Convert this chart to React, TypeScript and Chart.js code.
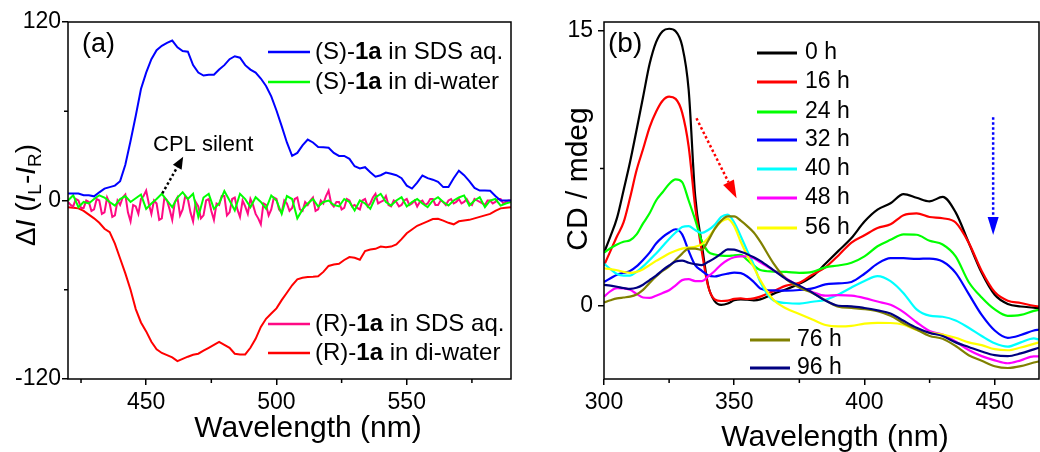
import React, { useEffect, useRef } from "react";
import { Chart, registerables } from "chart.js";

Chart.register(...registerables);

const FONT = "'Liberation Sans', Arial, Helvetica, sans-serif";

// ---------------- Panel (a): CPL spectra ----------------
const wavelengthA = [
  420, 422, 424, 426, 428, 430, 432, 434, 436, 438, 440, 442, 444, 446, 448, 450, 452, 454, 456, 458,
  460, 462, 464, 466, 468, 470, 472, 474, 476, 478, 480, 482, 484, 486, 488, 490, 492, 494, 496, 498,
  500, 502, 504, 506, 508, 510, 512, 514, 516, 518, 520, 522, 524, 526, 528, 530, 532, 534, 536, 538,
  540, 542, 544, 546, 548, 550, 552, 554, 556, 558, 560, 562, 564, 566, 568, 570, 572, 574, 576, 578,
  580, 582, 584, 586, 588, 590,
];
const wavelengthFineA = [
  420, 421, 422, 423, 424, 425, 426, 427, 428, 429, 430, 431, 432, 433, 434, 435, 436, 437, 438, 439,
  440, 441, 442, 443, 444, 445, 446, 447, 448, 449, 450, 451, 452, 453, 454, 455, 456, 457, 458, 459,
  460, 461, 462, 463, 464, 465, 466, 467, 468, 469, 470, 471, 472, 473, 474, 475, 476, 477, 478, 479,
  480, 481, 482, 483, 484, 485, 486, 487, 488, 489, 490, 491, 492, 493, 494, 495, 496, 497, 498, 499,
  500, 501, 502, 503, 504, 505, 506, 507, 508, 509, 510, 511, 512, 513, 514, 515, 516, 517, 518, 519,
  520, 521, 522, 523, 524, 525, 526, 527, 528, 529, 530, 531, 532, 533, 534, 535, 536, 537, 538, 539,
  540, 541, 542, 543, 544, 545, 546, 547, 548, 549, 550, 551, 552, 553, 554, 555, 556, 557, 558, 559,
  560, 561, 562, 563, 564, 565, 566, 567, 568, 569, 570, 571, 572, 573, 574, 575, 576, 577, 578, 579,
  580, 581, 582, 583, 584, 585, 586, 587, 588, 589, 590,
];
const sInSDS = [
  4.7, 4.7, 4.7, 3.5, 3.5, 2.8, 5.5, 8.0, 9.0, 10.0, 13, 24, 40, 57, 75, 86, 95, 101, 104, 106,
  107.5, 103, 100.5, 100, 91, 86, 84, 84.5, 84.5, 88, 91, 95, 97, 96, 91, 88, 86, 82, 77, 70,
  60.5, 50, 39, 30, 32, 37, 41, 39, 36, 35.8, 35.5, 32, 30, 30, 28, 23, 21.5, 22.4, 19, 16,
  17, 18.8, 18, 17, 15, 10, 8, 12, 16.8, 15, 14, 12.5, 9, 9, 15, 20, 17, 13, 8.5, 6.7,
  6.7, 6.5, 3, 0, 0, 0,
];
const sInWater = [
  0, 3.5, -4.5, -1, -2, 1, 3.5, 2, -1, -3.4, 1, 3, -1, 1.5, 4, -5.6, -2, 1, 4.5, 0,
  -4.5, 2, 5.6, 1, 4.5, -11, 2, 4.5, -5.6, -2, 6.3, 0, -6.7, 4.5, 1, -4.5, 2.2, -1, -5.6, 3.4,
  0, -9, 3, 1, -12, -6, -2, 1, -4, -1, 0, -3, -4, 1, -1, -6.7, 0, -2, -5.6, 2,
  4.5, -1, -3.4, 0, 2.2, -4, -1, 1, -2, -4.5, 0, 2.2, -1, -3.4, 0, 2, 3.4, -3.4, 0, 2.2,
  -4.5, 0, 1, -3.4, -2, -1,
];
// (R)-1a in SDS aq., sampled every 1 nm (wavelengthFineA)
const rInSDS = [
  -1, -3, -4, 1, 0, -5, -5, 0, -1, -7,
  -6, 1, 0, -9, -8, 2, -2, -11, -10, 0,
  -3, 2, 4, -8, -14, -3, -4, -9, 1, 3,
  6.7, -2, -9, 0, -2, -13, -12, 2, 0, -6,
  -13, -1, 2, -10, -6, 3, 1, -8, -14, -1,
  -4, -12, -10, 0, 1, -7, -13, -2, -3, 3,
  3, -10, -8, 1, 2, -6, -11, 0, -4, -9,
  1, -3, -9, -12, -16, -2, -3, -10, -6, 2,
  1, -6, -8, 0, -2, -7, -5, 1, 2, -6,
  -7, -1, -3, 0, 2, -7, -6, 0, -2, 3,
  6.7, -2, -4, -1, -1, -6, -5, 1, 0, -4,
  -3, -5, -6, 0, 1, -4, -2, 2, 4.5, -2,
  -1, 0, 3, -3, -4, 0, -1, -4, -3, 0,
  1, -3, -2, 0, -4, -1, 0, -3, -2, 1,
  1, -3, -3, 0, -1, -3, 0, 1, -2, -1,
  1, -2, -1, 1, -2, -3, 1, 0, -1, -2,
  -3, 0, 0, -2, -1, 1, 1, -2, -1, 0,
  0,
];
const rInWater = [
  -4.5, -4.8, -5.3, -7, -9.5, -12, -15, -19, -21.3, -29, -39, -49, -60, -73, -82, -88, -95, -100, -102.5, -104,
  -105.5, -108, -106.5, -105, -103.7, -103, -101, -99, -97, -95, -97, -99, -103, -103.5, -103.5, -99, -93, -85, -79.5, -76,
  -72.5, -67, -62, -57, -53, -52, -51.5, -51.3, -51, -48, -44, -43, -42.5, -40, -38, -38.5, -39.8, -34, -33, -32.5,
  -31, -31.5, -31, -29.5, -26, -22, -19.5, -17, -15.5, -14, -12.5, -12.3, -13.5, -15, -16, -14, -13.5, -13, -12, -11,
  -10, -9, -7, -5.3, -4.8, -4.5,
];
const seriesNamesA = ["(S)-1a in SDS aq.", "(S)-1a in di-water", "(R)-1a in SDS aq.", "(R)-1a in di-water"];
const seriesColorsA = ["#0000ff", "#00ff00", "#ff0a84", "#ff0000"];
const xTicksA = [450, 500, 550];
const xMinorA = [425, 475, 525, 575];
const yTicksA = [-120, 0, 120];
const yMinorA = [-60, 60];

// ---------------- Panel (b): CD spectra ----------------
const wavelengthB = [
  300, 302.5, 305, 307.5, 310, 312.5, 315, 317.5, 320, 322.5, 325, 327.5, 330, 332.5, 335, 337.5, 340, 342.5, 345, 347.5,
  350, 352.5, 355, 357.5, 360, 365, 370, 375, 380, 385, 390, 395, 400, 405, 410, 415, 420, 425, 430, 435,
  440, 445, 450, 455, 460, 465, 467,
];
const cd0h = [
  2.9, 3.8, 4.8, 6.3, 7.85, 9.6, 11.4, 13.2, 14.4, 15.0, 15.13, 15.0, 14.2, 11.8, 6.0, 3.4, 1.1, 0.25, 0.05, 0.12,
  0.3, 0.35, 0.33, 0.3, 0.35, 0.65, 0.9, 1.2, 1.6, 2.3, 3.0, 3.7, 4.6, 5.25, 5.6, 6.1, 5.9, 5.7, 5.95, 5.1,
  3.45, 1.8, 0.6, 0.1, -0.04, -0.1, -0.13,
];
const cd16h = [
  2.2, 3.0, 3.8, 4.55, 5.9, 7.4, 8.56, 9.75, 10.6, 11.2, 11.42, 11.3, 10.55, 8.7, 5.4, 3.0, 1.05, 0.35, 0.26, 0.28,
  0.38, 0.4, 0.37, 0.4, 0.5, 0.8, 1.1, 1.25, 1.7, 2.1, 2.75, 3.45, 3.85, 4.25, 4.45, 4.95, 5.05, 4.85, 4.78, 4.55,
  3.45, 1.9, 0.75, 0.28, 0.15, 0.0, -0.04,
];
const cd24h = [
  2.9, 3.15, 3.35, 3.5, 3.58, 3.9, 4.5, 5.05, 5.75, 6.2, 6.65, 6.9, 6.75, 5.75, 4.7, 3.55, 2.95, 2.8, 2.74, 2.72,
  2.76, 2.78, 2.5, 2.2, 1.95, 1.87, 1.85, 1.8, 1.85, 2.1, 2.2, 2.35, 2.7, 3.25, 3.6, 3.9, 3.88, 3.55, 3.35, 2.7,
  1.3, 0.45, -0.2, -0.55, -0.5, -0.28, -0.22,
];
const cd32h = [
  1.3, 1.5, 1.7, 1.8, 1.9, 2.15, 2.5, 2.9, 3.4, 3.75, 4.0, 4.18, 3.9, 3.0, 2.22, 1.92, 1.65, 1.6, 1.68, 1.76,
  1.81, 1.78, 1.6, 1.3, 0.95, 0.84, 0.83, 0.86, 0.95, 1.17, 1.22, 1.3, 1.75, 2.3, 2.6, 2.6, 2.56, 2.58, 2.42, 1.8,
  0.65, -0.5, -1.35, -1.75, -1.6, -1.35, -1.31,
];
const cd40h = [
  2.3, 2.0, 1.73, 1.65, 1.65, 1.85, 2.15, 2.5, 2.85, 3.25, 3.65, 4.0, 4.3, 4.35, 4.14, 3.98, 4.14, 4.42, 4.85, 4.98,
  4.55, 3.8, 3.0, 2.25, 1.3, 0.3, 0.15, 0.12, 0.22, 0.32, 0.62, 1.0, 1.35, 1.62, 1.35, 0.69, -0.2, -0.54, -0.6, -0.8,
  -1.2, -1.65, -2.05, -2.23, -2.0, -1.78, -1.85,
];
const cd48h = [
  0.5, 0.8, 0.96, 0.95, 0.87, 0.65, 0.45, 0.43, 0.55, 0.7, 0.85, 1.12, 1.4, 1.45, 1.35, 1.35, 1.6, 1.9, 2.25, 2.5,
  2.65, 2.7, 2.7, 2.6, 2.38, 1.95, 1.5, 1.05, 0.75, 0.55, 0.58, 0.55, 0.42, 0.23, 0.05, -0.35, -0.9, -1.38, -1.57, -1.95,
  -2.42, -2.75, -2.98, -3.14, -2.98, -2.76, -2.76,
];
const cd56h = [
  2.05, 2.0, 1.94, 1.85, 1.8, 1.85, 2.0, 2.22, 2.45, 2.65, 2.85, 3.0, 3.12, 3.18, 3.22, 3.35, 3.7, 4.2, 4.6, 4.75,
  4.35, 3.5, 2.75, 2.1, 1.4, 0.33, -0.15, -0.45, -0.75, -1.05, -1.13, -1.1, -0.98, -0.93, -0.94, -1.04, -1.32, -1.47, -1.57, -1.75,
  -2.0, -2.15, -2.37, -2.43, -2.28, -2.08, -2.0,
];
const cd76h = [
  0.18, 0.3, 0.4, 0.45, 0.5, 0.62, 0.87, 1.25, 1.6, 1.9, 2.15, 2.5, 2.85, 3.12, 3.12, 3.05, 3.55, 4.2, 4.65, 4.88,
  4.88, 4.65, 4.35, 4.0, 3.5, 2.33, 1.45, 1.0, 0.7, 0.3, -0.05, -0.12, -0.18, -0.3, -0.55, -0.95, -1.3, -1.65, -1.8, -2.2,
  -2.7, -3.0, -3.3, -3.4, -3.3, -3.1, -3.04,
];
const cd96h = [
  1.14, 1.1, 1.04, 0.97, 0.92, 0.98, 1.15, 1.4, 1.65, 1.95, 2.2, 2.42, 2.47, 2.35, 2.27, 2.22, 2.4, 2.6, 2.85, 3.08,
  3.07, 2.95, 2.82, 2.65, 2.45, 1.95, 1.45, 1.1, 0.72, 0.28, 0.0, -0.03, -0.12, -0.25, -0.42, -0.82, -1.2, -1.48, -1.65, -2.0,
  -2.25, -2.5, -2.7, -2.75, -2.6, -2.38, -2.29,
];
const timeLabelsB = ["0 h", "16 h", "24 h", "32 h", "40 h", "48 h", "56 h", "76 h", "96 h"];
const colorsB = ["#000000", "#ff0000", "#00ff00", "#0000ff", "#00ffff", "#ff00ff", "#ffff00", "#808000", "#000080"];
const xTicksB = [300, 350, 400, 450];
const xMinorB = [325, 375, 425];
const yTicksB = [0, 15];
const yMinorB = [7.5];

// ---------------- helpers ----------------
type Part = { text: string; font: string; dy?: number };

const toXY = (xs: number[], ys: number[]) => xs.map((x, i) => ({ x, y: ys[i] }));

function drawParts(ctx: CanvasRenderingContext2D, parts: Part[], x: number, y: number) {
  let cx = x;
  for (const p of parts) {
    ctx.font = p.font;
    ctx.fillText(p.text, cx, y + (p.dy || 0));
    cx += ctx.measureText(p.text).width;
  }
}
function partsWidth(ctx: CanvasRenderingContext2D, parts: Part[]) {
  let w = 0;
  for (const p of parts) {
    ctx.font = p.font;
    w += ctx.measureText(p.text).width;
  }
  return w;
}

function dottedArrow(
  ctx: CanvasRenderingContext2D,
  x1: number, y1: number, x2: number, y2: number,
  color: string, headLen: number, headW: number
) {
  const ang = Math.atan2(y2 - y1, x2 - x1);
  const bx = x2 - headLen * Math.cos(ang);
  const by = y2 - headLen * Math.sin(ang);
  ctx.save();
  ctx.strokeStyle = color;
  ctx.fillStyle = color;
  ctx.lineWidth = 2.5;
  ctx.setLineDash([2.5, 2.5]);
  ctx.beginPath();
  ctx.moveTo(x1, y1);
  ctx.lineTo(bx, by);
  ctx.stroke();
  ctx.setLineDash([]);
  const nx = -Math.sin(ang) * headW / 2;
  const ny = Math.cos(ang) * headW / 2;
  ctx.beginPath();
  ctx.moveTo(x2, y2);
  ctx.lineTo(bx + nx, by + ny);
  ctx.lineTo(bx - nx, by - ny);
  ctx.closePath();
  ctx.fill();
  ctx.restore();
}

function drawFrameAndMinor(chart: any, xMinor: number[], yMinor: number[]) {
  const ctx = chart.ctx as CanvasRenderingContext2D;
  const ca = chart.chartArea;
  const xs = chart.scales.x;
  const ys = chart.scales.y;
  ctx.save();
  ctx.strokeStyle = "#000";
  ctx.lineWidth = 1.5;
  ctx.strokeRect(ca.left, ca.top, ca.right - ca.left, ca.bottom - ca.top);
  ctx.beginPath();
  for (const v of xMinor) {
    const px = xs.getPixelForValue(v);
    ctx.moveTo(px, ca.bottom);
    ctx.lineTo(px, ca.bottom + 4);
  }
  for (const v of yMinor) {
    const py = ys.getPixelForValue(v);
    ctx.moveTo(ca.left - 4, py);
    ctx.lineTo(ca.left, py);
  }
  ctx.stroke();
  ctx.restore();
}

function axisX(min: number, max: number, ticks: number[]) {
  return {
    type: "linear",
    min,
    max,
    border: { display: false },
    grid: { drawOnChartArea: false, drawTicks: true, tickLength: 6, color: "#000", lineWidth: 1.5 },
    ticks: {
      color: "#000",
      font: { family: FONT, size: 23 },
      padding: 4,
      maxRotation: 0,
      autoSkip: false,
      callback: (v: any) => String(v),
    },
    afterBuildTicks: (s: any) => {
      s.ticks = ticks.map((v) => ({ value: v }));
    },
    afterFit: (s: any) => {
      s.height = 73;
    },
  };
}

function axisY(min: number, max: number, ticks: number[], width: number, pad: number) {
  return {
    type: "linear",
    min,
    max,
    border: { display: false },
    grid: { drawOnChartArea: false, drawTicks: true, tickLength: 6, color: "#000", lineWidth: 1.5 },
    ticks: {
      color: "#000",
      font: { family: FONT, size: 23 },
      padding: pad,
      autoSkip: false,
      callback: (v: any) => String(v),
    },
    afterBuildTicks: (s: any) => {
      s.ticks = ticks.map((v) => ({ value: v }));
    },
    afterFit: (s: any) => {
      s.width = width;
    },
  };
}

function legendParts(name: string, size: number): Part[] {
  const [pre, post] = name.split("1a");
  return [
    { text: pre, font: `${size}px ${FONT}` },
    { text: "1a", font: `bold ${size}px ${FONT}` },
    { text: post, font: `${size}px ${FONT}` },
  ];
}

// ---------------- configs ----------------
function makeConfigA(): any {
  const seriesA = [
    toXY(wavelengthA, sInSDS),
    toXY(wavelengthA, sInWater),
    toXY(wavelengthFineA, rInSDS),
    toXY(wavelengthA, rInWater),
  ];
  const decorA = {
    id: "decorA",
    afterDraw(chart: any) {
      const ctx = chart.ctx as CanvasRenderingContext2D;
      const xs = chart.scales.x;
      const ys = chart.scales.y;
      drawFrameAndMinor(chart, xMinorA, yMinorA);
      ctx.save();
      ctx.fillStyle = "#000";

      // y title: ΔI (I_L - I_R)
      const big = 28;
      const sub = 19;
      const yParts: Part[] = [
        { text: "\u0394", font: `${big}px ${FONT}` },
        { text: "I", font: `italic ${big}px ${FONT}` },
        { text: " (", font: `${big}px ${FONT}` },
        { text: "I", font: `italic ${big}px ${FONT}` },
        { text: "L", font: `${sub}px ${FONT}`, dy: 6 },
        { text: "-", font: `${big}px ${FONT}` },
        { text: "I", font: `italic ${big}px ${FONT}` },
        { text: "R", font: `${sub}px ${FONT}`, dy: 6 },
        { text: ")", font: `${big}px ${FONT}` },
      ];
      ctx.save();
      ctx.translate(35, 195);
      ctx.rotate(-Math.PI / 2);
      ctx.textBaseline = "alphabetic";
      ctx.textAlign = "left";
      drawParts(ctx, yParts, -partsWidth(ctx, yParts) / 2, 0);
      ctx.restore();

      // x title
      ctx.font = `30px ${FONT}`;
      ctx.textAlign = "center";
      ctx.textBaseline = "alphabetic";
      ctx.fillText("Wavelength (nm)", 308, 437);

      // panel label
      ctx.textAlign = "left";
      ctx.textBaseline = "middle";
      ctx.font = `27px ${FONT}`;
      ctx.fillText("(a)", 82, 45);

      // CPL silent annotation
      ctx.font = `22px ${FONT}`;
      ctx.fillText("CPL silent", 153, 145);
      dottedArrow(
        ctx,
        xs.getPixelForValue(456.2), ys.getPixelForValue(4.8),
        xs.getPixelForValue(464.2), ys.getPixelForValue(29.4),
        "#000", 12, 10
      );

      // legend
      const legY = [52, 82, 324, 353];
      seriesNamesA.forEach((name, i) => {
        ctx.strokeStyle = seriesColorsA[i];
        ctx.lineWidth = 2.5;
        ctx.beginPath();
        ctx.moveTo(268, legY[i]);
        ctx.lineTo(310, legY[i]);
        ctx.stroke();
        ctx.fillStyle = "#000";
        ctx.textBaseline = "middle";
        ctx.textAlign = "left";
        drawParts(ctx, legendParts(name, 24), 315, legY[i]);
      });
      ctx.restore();
    },
  };
  return {
    type: "line",
    data: {
      datasets: seriesA.map((pts, i) => ({
        label: seriesNamesA[i],
        data: pts,
        borderColor: seriesColorsA[i],
        borderWidth: 2,
        pointRadius: 0,
        tension: 0,
        fill: false,
      })),
    },
    options: {
      responsive: false,
      animation: false,
      devicePixelRatio: 1,
      events: [],
      layout: { padding: { top: 22, right: 9, left: 0, bottom: 0 } },
      plugins: { legend: { display: false }, tooltip: { enabled: false } },
      scales: {
        x: axisX(420, 590, xTicksA),
        y: axisY(-120, 120, yTicksA, 68, 1),
      },
    },
    plugins: [decorA],
  };
}

function makeConfigB(): any {
  const seriesB = [cd0h, cd16h, cd24h, cd32h, cd40h, cd48h, cd56h, cd76h, cd96h];
  const decorB = {
    id: "decorB",
    afterDraw(chart: any) {
      const ctx = chart.ctx as CanvasRenderingContext2D;
      const xs = chart.scales.x;
      const ys = chart.scales.y;
      drawFrameAndMinor(chart, xMinorB, yMinorB);
      ctx.save();
      ctx.fillStyle = "#000";

      // y title
      ctx.save();
      ctx.translate(67, 179);
      ctx.rotate(-Math.PI / 2);
      ctx.font = `30px ${FONT}`;
      ctx.textAlign = "center";
      ctx.textBaseline = "alphabetic";
      ctx.fillText("CD / mdeg", 0, 0);
      ctx.restore();

      // x title
      ctx.font = `30px ${FONT}`;
      ctx.textAlign = "center";
      ctx.textBaseline = "alphabetic";
      ctx.fillText("Wavelength (nm)", 315, 446);

      // panel label
      ctx.textAlign = "left";
      ctx.textBaseline = "middle";
      ctx.font = `28px ${FONT}`;
      ctx.fillText("(b)", 88, 44);

      // arrows
      dottedArrow(
        ctx,
        xs.getPixelForValue(335.5), ys.getPixelForValue(10.24),
        xs.getPixelForValue(350.9), ys.getPixelForValue(5.87),
        "#ff0000", 18, 12
      );
      dottedArrow(
        ctx,
        xs.getPixelForValue(449.4), ys.getPixelForValue(10.3),
        xs.getPixelForValue(449.4), ys.getPixelForValue(3.87),
        "#0000ff", 18, 11
      );

      // legend
      const legY = [53, 82, 112, 140, 169, 198, 228, 340, 368];
      timeLabelsB.forEach((lab, i) => {
        const late = i >= 7;
        const x0 = late ? 230 : 237;
        const x1 = late ? 270 : 277;
        const tx = late ? 277 : 285;
        ctx.strokeStyle = colorsB[i];
        ctx.lineWidth = 3;
        ctx.beginPath();
        ctx.moveTo(x0, legY[i]);
        ctx.lineTo(x1, legY[i]);
        ctx.stroke();
        ctx.fillStyle = "#000";
        ctx.font = `23px ${FONT}`;
        ctx.textAlign = "left";
        ctx.textBaseline = "middle";
        ctx.fillText(lab, tx, legY[i]);
      });
      ctx.restore();
    },
  };
  return {
    type: "line",
    data: {
      datasets: seriesB.map((ys, i) => ({
        label: timeLabelsB[i],
        data: toXY(wavelengthB, ys),
        borderColor: colorsB[i],
        borderWidth: 2.2,
        pointRadius: 0,
        cubicInterpolationMode: "monotone",
        fill: false,
        order: seriesB.length - i,
      })),
    },
    options: {
      responsive: false,
      animation: false,
      devicePixelRatio: 1,
      events: [],
      layout: { padding: { top: 22, right: 1, left: 0, bottom: 0 } },
      plugins: { legend: { display: false }, tooltip: { enabled: false } },
      scales: {
        x: axisX(300, 467, xTicksB),
        y: axisY(-4, 15.5, yTicksB, 84, 5),
      },
    },
    plugins: [decorB],
  };
}

export default function App() {
  const refA = useRef<HTMLCanvasElement>(null);
  const refB = useRef<HTMLCanvasElement>(null);

  useEffect(() => {
    const a = new Chart(refA.current as HTMLCanvasElement, makeConfigA());
    const b = new Chart(refB.current as HTMLCanvasElement, makeConfigB());
    return () => {
      a.destroy();
      b.destroy();
    };
  }, []);

  return (
    <div
      style={{
        position: "fixed",
        left: 0,
        top: 0,
        width: 1040,
        height: 452,
        background: "#fff",
        overflow: "hidden",
      }}
    >
      <canvas
        ref={refA}
        width={520}
        height={452}
        style={{ position: "absolute", left: 0, top: 0, width: 520, height: 452 }}
      />
      <canvas
        ref={refB}
        width={520}
        height={452}
        style={{ position: "absolute", left: 520, top: 0, width: 520, height: 452 }}
      />
    </div>
  );
}
